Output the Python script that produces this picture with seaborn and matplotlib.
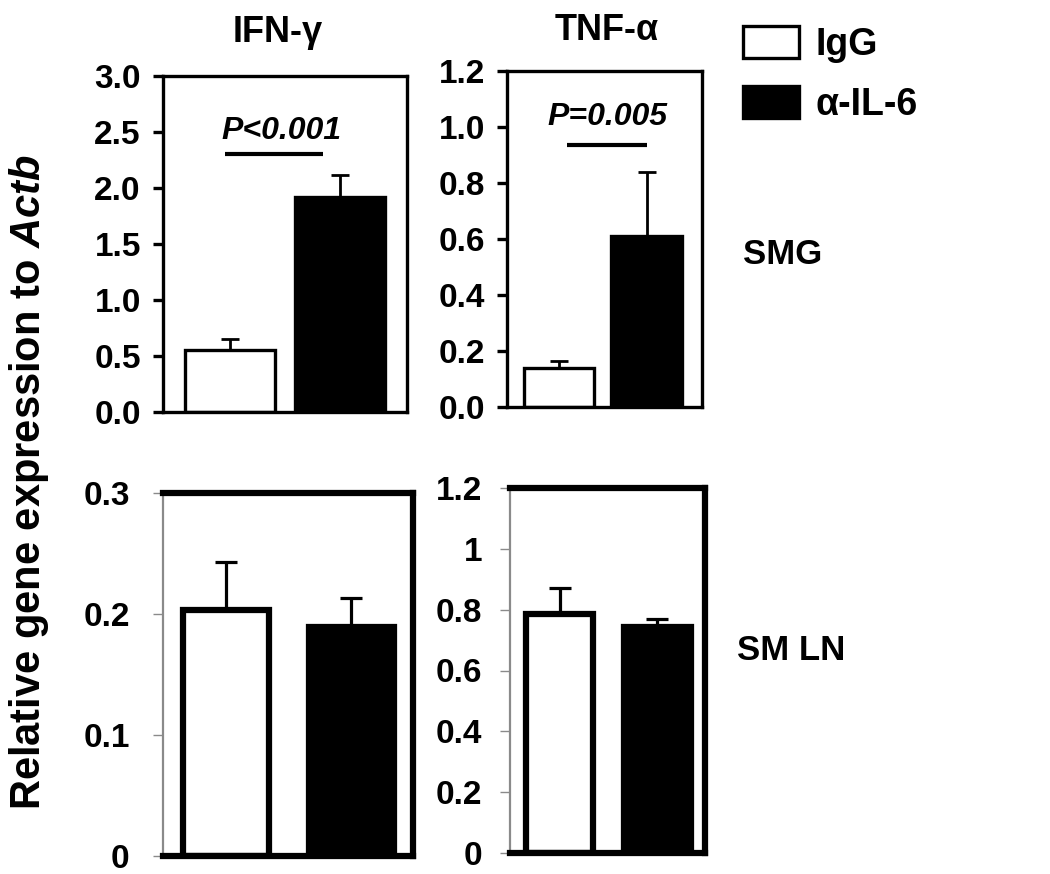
import matplotlib
matplotlib.use("Agg")
import matplotlib.pyplot as plt
import seaborn as sns
import pandas as pd

sns.set_theme(style="white")
plt.rcParams['font.family'] = ['Liberation Sans', 'DejaVu Sans']
plt.rcParams['font.weight'] = 'bold'
plt.rcParams['mathtext.fontset'] = 'custom'
plt.rcParams['mathtext.it'] = 'Liberation Sans:italic:bold'
plt.rcParams['mathtext.rm'] = 'Liberation Sans:bold'
for k in ['text.color', 'axes.labelcolor', 'xtick.color', 'ytick.color', 'axes.edgecolor']:
    plt.rcParams[k] = 'black'

groups = ["IgG", "α-IL-6"]
colors = ["white", "black"]

# panel data
ifng_smg = [0.55, 1.92]
ifng_smg_err = [0.10, 0.20]
tnfa_smg = [0.14, 0.61]
tnfa_smg_err = [0.025, 0.23]
ifng_ln = [0.203, 0.189]
ifng_ln_err = [0.040, 0.024]
tnfa_ln = [0.785, 0.742]
tnfa_ln_err = [0.085, 0.028]

ifng_ticks = [0.0, 0.5, 1.0, 1.5, 2.0, 2.5, 3.0]
ifng_ticklabels = ["0.0", "0.5", "1.0", "1.5", "2.0", "2.5", "3.0"]
tnfa_ticks = [0.0, 0.2, 0.4, 0.6, 0.8, 1.0, 1.2]
tnfa_ticklabels = ["0.0", "0.2", "0.4", "0.6", "0.8", "1.0", "1.2"]
ln1_ticks = [0.0, 0.1, 0.2, 0.3]
ln1_ticklabels = ["0", "0.1", "0.2", "0.3"]
ln2_ticks = [0.0, 0.2, 0.4, 0.6, 0.8, 1.0, 1.2]
ln2_ticklabels = ["0", "0.2", "0.4", "0.6", "0.8", "1", "1.2"]

titles = ["IFN-γ", "TNF-α"]
row_labels = ["SMG", "SM LN"]
pvals = ["P<0.001", "P=0.005"]

W, H = 1050, 874
fig = plt.figure(figsize=(W / 100, H / 100), dpi=100)

def rect(x0, y0, x1, y1):
    return [x0 / W, 1 - y1 / H, (x1 - x0) / W, (y1 - y0) / H]

FS = 24

def panel(pos, vals, errs, ticks, ticklabels, ylim, xlim, width, lw, elw, cap,
          bottom_style=False, pad=9):
    ax = fig.add_axes(pos)
    df = pd.DataFrame({"group": groups, "value": vals})
    sns.barplot(data=df, x="group", y="value", hue="group", palette=colors,
                edgecolor="black", linewidth=lw, width=width, errorbar=None,
                legend=False, ax=ax, zorder=2)
    ax.errorbar([0, 1], vals, yerr=[[0, 0], errs], fmt="none", ecolor="black",
                elinewidth=elw, capsize=cap, capthick=elw, zorder=1)
    ax.set_xlim(*xlim)
    ax.set_ylim(*ylim)
    ax.set_xticks([])
    ax.set_xlabel("")
    ax.set_ylabel("")
    ax.set_yticks(ticks)
    ax.set_yticklabels(ticklabels, fontsize=FS, fontweight="bold", color="black")
    for s in ax.spines.values():
        s.set_color("black")
        s.set_linewidth(lw)
        s.set_visible(True)
    if bottom_style:
        ax.spines["left"].set_color("#8a8a8a")
        ax.spines["left"].set_linewidth(1.6)
        ax.yaxis.set_tick_params(direction="out", length=7, width=1.0,
                                 color="#8a8a8a", pad=pad, left=True)
    else:
        ax.yaxis.set_tick_params(direction="out", length=7, width=lw,
                                 color="black", pad=pad, left=True)
    ax.set_facecolor("white")
    return ax

ax1 = panel(rect(163, 76, 407, 412), ifng_smg, ifng_smg_err, ifng_ticks, ifng_ticklabels,
            (0, 3.0), (-0.61, 1.61), 0.82, 2.4, 2.0, 6.5)
ax2 = panel(rect(507, 71, 702, 407), tnfa_smg, tnfa_smg_err, tnfa_ticks, tnfa_ticklabels,
            (0, 1.2), (-0.594, 1.634), 0.81, 2.4, 2.0, 6.5)
ax3 = panel(rect(163, 493, 413, 856), ifng_ln, ifng_ln_err, ln1_ticks, ln1_ticklabels,
            (0, 0.3), (-0.50, 1.49), 0.68, 4.5, 2.3, 8, bottom_style=True, pad=17)
ax4 = panel(rect(510, 488, 705, 853), tnfa_ln, tnfa_ln_err, ln2_ticks, ln2_ticklabels,
            (0, 1.2), (-0.51, 1.49), 0.69, 4.5, 2.3, 8, bottom_style=True, pad=13)

# titles
fig.text(278 / W, 1 - 33 / H, titles[0], fontsize=26, fontweight="bold", ha="center", va="center")
fig.text(607 / W, 1 - 31 / H, titles[1], fontsize=26, fontweight="bold", ha="center", va="center")

# significance annotations
ax1.plot([-0.05, 0.85], [2.30, 2.30], color="black", lw=3, solid_capstyle="butt")
ax1.text(0.47, 2.51, pvals[0], ha="center", va="center", fontsize=23,
         fontstyle="italic", fontweight="bold")
ax2.plot([0.09, 1.0], [0.935, 0.935], color="black", lw=3, solid_capstyle="butt")
ax2.text(0.55, 1.035, pvals[1], ha="center", va="center", fontsize=23,
         fontstyle="italic", fontweight="bold")

# row labels
fig.text(743 / W, 1 - 255 / H, row_labels[0], fontsize=25, fontweight="bold", va="center", ha="left")
fig.text(737 / W, 1 - 650 / H, row_labels[1], fontsize=25, fontweight="bold", va="center", ha="left")

# y label
fig.text(29 / W, 1 - 482 / H, "Relative gene expression to $\\mathit{Actb}$", rotation=90,
         fontsize=30, fontweight="bold", va="center", ha="center")

# legend
handles = [ax1.patches[0], ax1.patches[1]]
fig.legend(handles, groups, loc="upper left", bbox_to_anchor=(735 / W, 1 - 18 / H),
           frameon=False, handlelength=1.5, handleheight=0.95,
           handletextpad=0.45, labelspacing=0.62, borderaxespad=0, borderpad=0.2,
           prop={"weight": "bold", "size": 27})

fig.savefig("out.png", dpi=100, facecolor="white")
